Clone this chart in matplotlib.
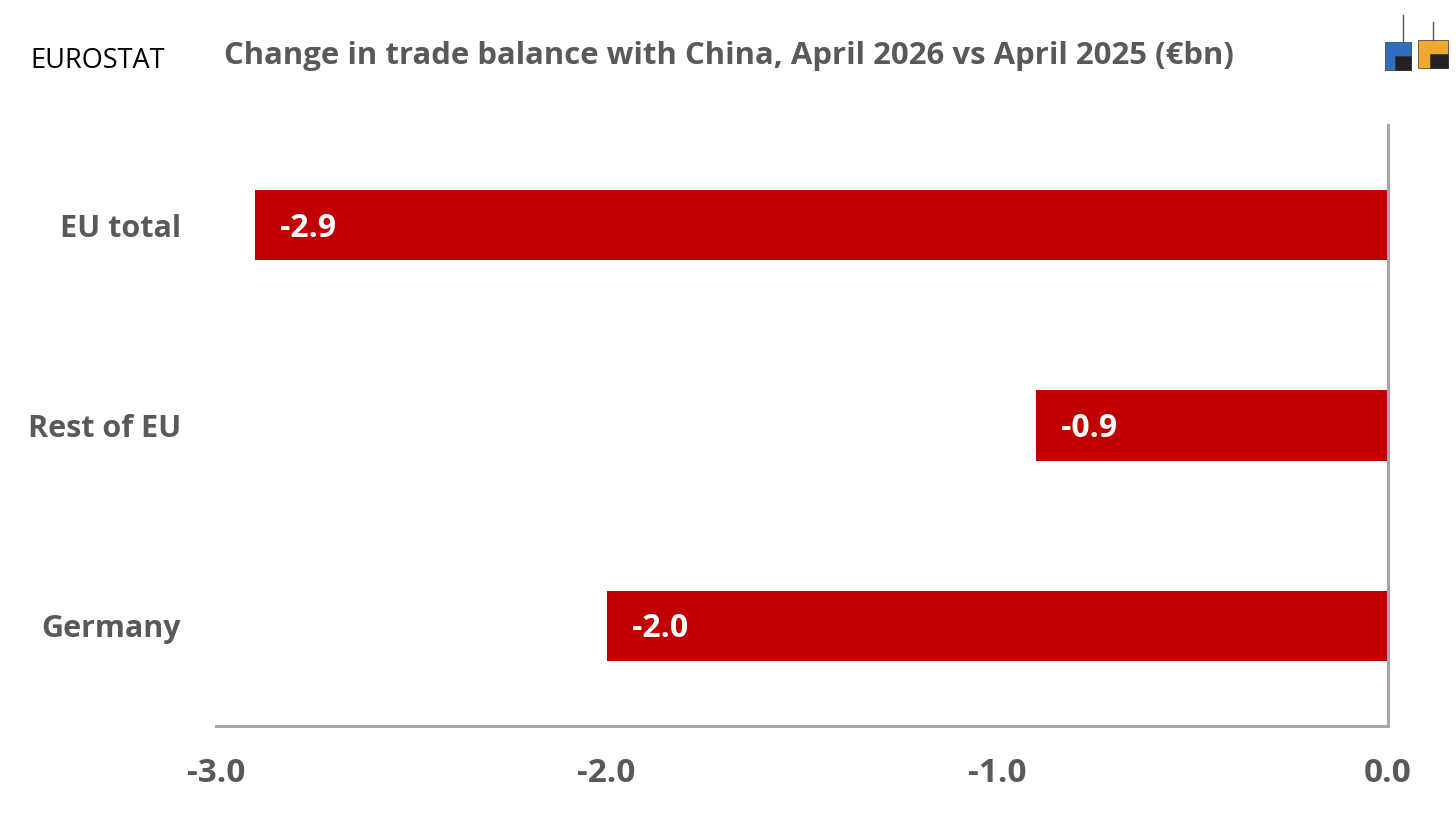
import matplotlib
matplotlib.use("Agg")
import matplotlib.pyplot as plt
from matplotlib.patches import Rectangle

CATEGORIES = ["EU total", "Rest of EU", "Germany"]
VALUES = [-2.9, -0.9, -2.0]
XTICKS = [-3.0, -2.0, -1.0, 0.0]

BAR_COLOR = "#C00000"
TEXT_COLOR = "#595959"
AXIS_COLOR = "#A6A6A6"
FONT = ["Open Sans", "DejaVu Sans"]

plt.rcParams["font.family"] = FONT

fig = plt.figure(figsize=(14.56, 8.19), dpi=100)
ax = fig.add_axes([216 / 1456, 1 - 726 / 819, 1172 / 1456, 601 / 819])

ypos = list(range(len(CATEGORIES)))
ax.barh(ypos, VALUES, height=0.35, color=BAR_COLOR, zorder=2)

for y, v in zip(ypos, VALUES):
    ax.annotate("%.1f" % v, xy=(v, y), xytext=(25, -3), textcoords="offset pixels",
                ha="left", va="center", color="white", fontsize=23,
                fontweight="bold")

ax.set_xlim(-3.0, 0.0)
ax.set_ylim(len(CATEGORIES) - 0.5, -0.5)
ax.set_xticks(XTICKS)
ax.set_xticklabels(["%.1f" % t for t in XTICKS])
ax.set_yticks(ypos)
ax.set_yticklabels(CATEGORIES)

for side in ["top", "left"]:
    ax.spines[side].set_visible(False)
for side in ["bottom", "right"]:
    ax.spines[side].set_color(AXIS_COLOR)
    ax.spines[side].set_linewidth(2.2)

ax.tick_params(axis="x", length=0, pad=22, labelsize=24, labelcolor=TEXT_COLOR)
ax.tick_params(axis="y", length=0, pad=25, labelsize=22, labelcolor=TEXT_COLOR)
for label in ax.get_xticklabels() + ax.get_yticklabels():
    label.set_fontweight("bold")

fig.text(30 / 1456, 1 - 61 / 819, "EUROSTAT", fontsize=19.5, color="black",
         ha="left", va="center")
fig.text(224 / 1456, 1 - 56 / 819,
         "Change in trade balance with China, April 2026 vs April 2025 (€bn)",
         fontsize=22.4, fontweight="bold", color=TEXT_COLOR, ha="left", va="center")

# small container logo, top right
def box(x, y, w, h, color):
    fig.patches.append(Rectangle((x / 1456, 1 - (y + h) / 819), w / 1456, h / 819,
                                 transform=fig.transFigure, facecolor=color,
                                 edgecolor="#333333", linewidth=0.5))

box(1385, 42, 26, 28, "#2F6FC0")
box(1418, 40, 30, 28, "#F0A830")
box(1395, 56, 16, 14, "#222222")
box(1430, 54, 18, 14, "#222222")
fig.lines.append(plt.Line2D([1403 / 1456, 1403 / 1456], [1 - 42 / 819, 1 - 15 / 819],
                            transform=fig.transFigure, color="#555555", linewidth=1))
fig.lines.append(plt.Line2D([1433 / 1456, 1433 / 1456], [1 - 40 / 819, 1 - 22 / 819],
                            transform=fig.transFigure, color="#555555", linewidth=1))

fig.savefig("out.png", dpi=100, facecolor="white")
